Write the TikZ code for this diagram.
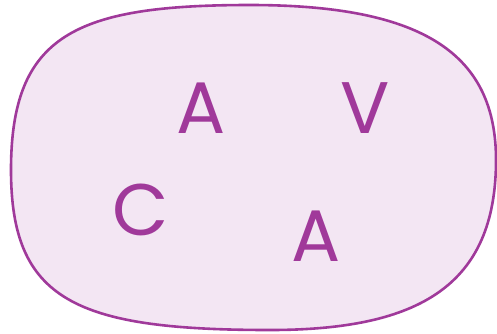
\documentclass[tikz,border=0pt]{standalone}
\usepackage{fontspec}
\setmainfont{Poppins}
\definecolor{blobline}{HTML}{A0399A}
\definecolor{blobfill}{HTML}{F3E6F3}

\begin{document}
\begin{tikzpicture}[x=1pt, y=-1pt,
          blob/.style={draw=blobline, fill=blobfill, line width=2.6pt},
          letter/.style={text=blobline, inner sep=0pt, font=\fontsize{73}{73}\selectfont}]
        \useasboundingbox (0,0) rectangle (497,333);
        % rounded blob
        \draw [blob] (250,5) .. controls (425,5) and (496,55) .. (496,160)
              .. controls (496,285) and (420,330) .. (270,330)
              .. controls (75,330) and (11,300) .. (11,170)
              .. controls (11,35) and (75,5) .. (250,5) -- cycle;

        \node [letter] (a1) at (201,108) {A};
        \node [letter] (v) at (365,108) {V};
        \node [letter] (c) at (141,210) {C};
        \node [letter] (a2) at (316,236) {A};
      \end{tikzpicture}
\end{document}
